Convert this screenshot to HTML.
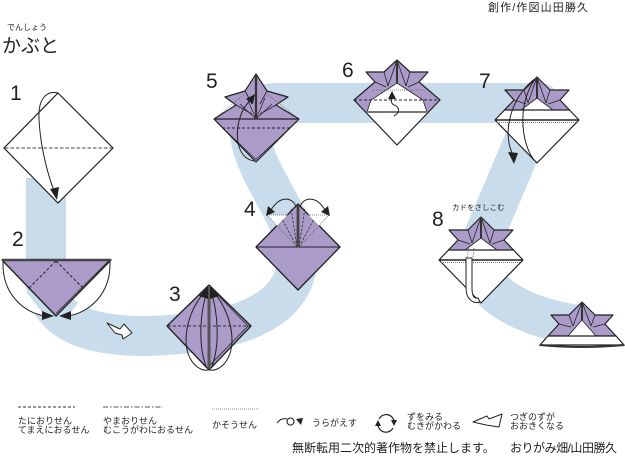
<!DOCTYPE html>
<html><head><meta charset="utf-8">
<style>
html,body{margin:0;padding:0;background:#fff;}
svg{display:block;}
text{font-family:"Liberation Sans","Noto Sans CJK JP",sans-serif;fill:#222;}
</style></head><body>
<svg width="625" height="459" viewBox="0 0 625 459" xmlns="http://www.w3.org/2000/svg">
<defs>
<g id="kb">
 <polygon points="0,0 13,13 32,13 23,23 42,43 0,86 -42,43 -23,23 -32,13 -13,13" fill="#fff"/>
 <polygon points="0,0 13,13 32,13 23,23 33,33 -33,33 -23,23 -32,13 -13,13" fill="#aa9bc9"/>
 <polygon points="0,21 16,33 -16,33" fill="#fff" stroke="#222" stroke-width="0.8"/>
 <polygon points="0,0 13,13 32,13 23,23 42,43 0,86 -42,43 -23,23 -32,13 -13,13" fill="none" stroke="#222" stroke-width="1.2" stroke-linejoin="round"/>
 <path d="M0,0 L-9,26 M0,0 L9,26 M-13,13 L-9,26 M13,13 L9,26 M-23,23 L-11,27 M23,23 L11,27" stroke="#222" stroke-width="0.8" fill="none"/>
 <line x1="0" y1="0" x2="0" y2="21" stroke="#333" stroke-width="2"/>
 <line x1="-33" y1="33" x2="33" y2="33" stroke="#222" stroke-width="1.2"/>
 <line x1="-42" y1="43" x2="42" y2="43" stroke="#222" stroke-width="1.4"/>
 <line x1="-40" y1="45.5" x2="40" y2="45.5" stroke="#777" stroke-width="1" stroke-dasharray="1,1"/>
</g>
</defs>

<!-- blue band -->
<path d="M46,178 L46,280 C46,345 150,340 210,330 C262,321 299,297 297,255 C295,215 255,175 250,135 C247,110 255,103 280,103 L540,103 L478,250 C472,290 520,318 585,326" fill="none" stroke="#c9dcec" stroke-width="40" stroke-linejoin="round"/>

<!-- title -->
<text x="7" y="30" font-size="8">でんしょう</text>
<text x="2" y="52" font-size="19">かぶと</text>
<text x="488" y="11" font-size="11" textLength="100" lengthAdjust="spacing">創作/作図山田勝久</text>

<!-- numbers -->
<g font-size="21">
<text x="10" y="100">1</text>
<text x="12" y="246">2</text>
<text x="169" y="301">3</text>
<text x="244" y="216">4</text>
<text x="206" y="88">5</text>
<text x="342" y="77">6</text>
<text x="479" y="88">7</text>
<text x="432" y="226">8</text>
</g>

<!-- step 1 -->
<polygon points="58,93 113,148 58,203 4,148" fill="#fff" stroke="#222" stroke-width="1.2"/>
<line x1="5" y1="148" x2="112" y2="148" stroke="#6e6070" stroke-width="1.3" stroke-dasharray="3.5,2"/>
<path d="M58,93 C46,90 38,100 39,118 C40,145 47,172 54,191" fill="none" stroke="#222" stroke-width="1"/>
<polygon points="50,189 59,187 57,200" fill="#222"/>

<!-- step 2 -->
<path d="M3,262 C2,295 25,313 45,316" fill="#fff" stroke="#222" stroke-width="1"/>
<path d="M110,262 C111,295 88,313 68,316" fill="#fff" stroke="#222" stroke-width="1"/>
<polygon points="2,260 111,260 56,316" fill="#aa9bc9" stroke="#222" stroke-width="1.4" stroke-linejoin="round"/>
<line x1="2" y1="260" x2="111" y2="260" stroke="#444" stroke-width="2.5"/>
<line x1="108" y1="261.5" x2="56" y2="313.5" stroke="#222" stroke-width="0.8"/>
<path d="M56,261 L29,288 M56,261 L83,288" stroke="#222" stroke-width="1" stroke-dasharray="3,2" fill="none"/>
<polygon points="42,311 54,316 42,320" fill="#222"/>
<polygon points="71,311 59,316 71,320" fill="#222"/>

<!-- hollow arrow -->
<polygon points="107,323 120,329 124,324 132,333 123,339 122,335 115,333" fill="#fff" stroke="#222" stroke-width="1" stroke-linejoin="round"/>

<!-- step 3 -->
<polygon points="209,285 251,326 209,370 167,326" fill="#aa9bc9" stroke="#222" stroke-width="1.3" stroke-linejoin="round"/>
<path d="M211,288 L248,326 L209,366" fill="none" stroke="#222" stroke-width="0.8"/>
<line x1="168" y1="326" x2="250" y2="326" stroke="#333" stroke-width="1" stroke-dasharray="3,2"/>
<line x1="209" y1="287" x2="209" y2="370" stroke="#555" stroke-width="3"/>
<path d="M207,290 C190,305 180,340 190,358 C196,370 207,372 209,369 M211,290 C228,305 238,340 228,358 C222,370 211,372 209,369 M207,292 C200,312 198,345 206,366 M211,292 C218,312 220,345 212,366" fill="none" stroke="#222" stroke-width="1"/>
<polygon points="199,296 208,285 208,299" fill="#222"/>
<polygon points="219,296 210,285 210,299" fill="#222"/>

<!-- step 4 -->
<polygon points="298,204 340,247 298,290 256,247" fill="#aa9bc9" stroke="#222" stroke-width="1.3" stroke-linejoin="round"/>
<line x1="256" y1="247" x2="340" y2="247" stroke="#222" stroke-width="1"/>
<polygon points="267,215 287.5,215.5 277,226" fill="#fff"/>
<polygon points="329,215 308.5,215.5 319,226" fill="#fff"/>
<path d="M267,215 L288,215 M267,215 L297,247 M329,215 L308,215 M329,215 L299,247" stroke="#666" stroke-width="0.8" stroke-dasharray="1,1" fill="none"/>
<path d="M297,247 L282,219 M297,247 L291,208 M299,247 L314,219 M299,247 L305,208" stroke="#333" stroke-width="0.8" stroke-dasharray="2.5,1.5" fill="none"/>
<line x1="298" y1="205" x2="298" y2="246" stroke="#444" stroke-width="2.8"/>
<path d="M296,207 C293,197 280,195 271,210" fill="none" stroke="#222" stroke-width="1"/>
<path d="M300,207 C303,197 316,195 325,210" fill="none" stroke="#222" stroke-width="1"/>
<polygon points="266,216 268,206 275,212" fill="#222"/>
<polygon points="330,216 328,206 321,212" fill="#222"/>

<!-- step 5 -->
<g transform="translate(256,74)">
 <polygon points="0,0 11,17 32,23 20,31 43,45 0,88 -42,45 -20,31 -31,23 -11,17" fill="#aa9bc9" stroke="#222" stroke-width="1.2" stroke-linejoin="round"/>
 <path d="M-40,47.5 L0,85.5 L41,47.5" fill="none" stroke="#222" stroke-width="0.7"/>
 <path d="M-11,17 L-4,30 M11,17 L4,30 M-20,31 L-4,40 M20,31 L4,40" stroke="#222" stroke-width="0.8" fill="none"/>
 <path d="M0,45 L-9,24 M0,45 L9,24 M0,45 L-16,30 M0,45 L16,30" stroke="#222" stroke-width="0.7" fill="none"/>
 <path d="M-42,45 L-11,20 M43,45 L11,20" stroke="#555" stroke-dasharray="1,1.5" stroke-width="0.7" fill="none"/>
 <line x1="-42" y1="45" x2="43" y2="45" stroke="#222" stroke-width="1.2"/>
 <line x1="-34" y1="54" x2="35" y2="54" stroke="#222" stroke-dasharray="3,2" stroke-width="1"/>
 <line x1="0" y1="0" x2="0" y2="45" stroke="#333" stroke-width="2.2"/>
 <path d="M-2,87 C-18,84 -20,65 -18,52 C-16,40 -11,31 -5,26" stroke="#222" fill="none" stroke-width="1"/>
 <polygon points="-1,20 -10,25 -3,30" fill="#222"/>
</g>

<!-- step 6 -->
<g transform="translate(397,60)">
 <polygon points="0,0 13,12 31,12 22,22 43,40 0,85 -43,40 -22,22 -31,12 -13,12" fill="#fff"/>
 <polygon points="0,0 13,12 31,12 22,22 43,40 31,52 -31,52 -43,40 -22,22 -31,12 -13,12" fill="#aa9bc9"/>
 <polygon points="0,23 26,40 30,52 -30,52 -26,40" fill="#fff" stroke="#222" stroke-width="0.8"/>
 <polygon points="0,0 13,12 31,12 22,22 43,40 0,85 -43,40 -22,22 -31,12 -13,12" fill="none" stroke="#222" stroke-width="1.2" stroke-linejoin="round"/>
 <path d="M0,0 L-9,26 M0,0 L9,26 M-13,12 L-9,26 M13,12 L9,26 M-22,22 L-11,27 M22,22 L11,27" stroke="#222" stroke-width="0.8" fill="none"/>
 <line x1="0" y1="0" x2="0" y2="23" stroke="#333" stroke-width="2"/>
 <line x1="-25" y1="30" x2="26" y2="30" stroke="#666" stroke-width="0.8" stroke-dasharray="1,1"/>
 <line x1="-43" y1="40" x2="43" y2="40" stroke="#222" stroke-width="1" stroke-dasharray="3,2"/>
 <line x1="-31" y1="52" x2="31" y2="52" stroke="#777" stroke-width="2"/>
 <path d="M-3,56 C3,53 3,47 -3,45 C-7,43 -5,40 -5,37" stroke="#222" fill="none" stroke-width="1"/>
 <polygon points="-9,39 -1,39 -5,31" fill="#222"/>
</g>

<!-- step 7 -->
<use href="#kb" transform="translate(537,77)"/>
<path d="M537,163 C522,150 515,105 536,78" fill="none" stroke="#222" stroke-width="1"/>
<path d="M536,78 C512,95 502,130 512,153" fill="none" stroke="#222" stroke-width="1"/>
<polygon points="508,152 518,153 514,164" fill="#222"/>

<!-- step 8 -->
<text x="452" y="210" font-size="7.5">カドをさしこむ</text>
<use href="#kb" transform="translate(481,217)"/>
<path d="M469,248 L467,258 M474,248 L473,258" stroke="#555" stroke-width="0.8" stroke-dasharray="1,1" fill="none"/>
<path d="M466,258 L466,288 C466,300 474,304 480,302 L478,298 C474,299 472,296 472,288 L472,258 Z" fill="#fff" stroke="#222" stroke-width="1"/>

<!-- final -->
<g transform="translate(582,302)">
 <polygon points="0,0 13,13 31,13 23,22 34,34 -34,34 -23,22 -31,13 -13,13" fill="#aa9bc9" stroke="#222" stroke-width="1.2" stroke-linejoin="round"/>
 <polygon points="0,18 14,34 -14,34" fill="#fff" stroke="#222" stroke-width="0.8"/>
 <polygon points="-34,34 34,34 42,43 -42,43" fill="#fff" stroke="#222" stroke-width="1.2"/>
 <path d="M0,0 L-9,24 M0,0 L9,24 M-13,13 L-9,24 M13,13 L9,24 M-23,22 L-11,25 M23,22 L11,25" stroke="#222" stroke-width="0.8" fill="none"/>
 <line x1="0" y1="0" x2="0" y2="18" stroke="#333" stroke-width="2"/>
 <path d="M-42,43 Q0,47 42,43" fill="none" stroke="#333" stroke-width="2"/>
</g>

<!-- legend -->
<line x1="18" y1="407" x2="75" y2="407" stroke="#333" stroke-width="1" stroke-dasharray="3,2"/>
<line x1="103" y1="407" x2="163" y2="407" stroke="#555" stroke-width="1" stroke-dasharray="5,2,1.5,2"/>
<line x1="212" y1="409" x2="260" y2="409" stroke="#777" stroke-width="0.8" stroke-dasharray="1,1"/>
<g font-size="9">
<text x="18" y="424">たにおりせん</text>
<text x="18" y="433">てまえにおるせん</text>
<text x="103" y="424">やまおりせん</text>
<text x="103" y="433">むこうがわにおるせん</text>
<text x="212" y="428">かそうせん</text>
<text x="312" y="426">うらがえす</text>
<text x="407" y="420">ずをみる</text>
<text x="407" y="429">むきがかわる</text>
<text x="510" y="420">つぎのずが</text>
<text x="510" y="429">おおきくなる</text>
</g>
<!-- turn over icon -->
<path d="M277,423 C280,419 284,418 287,419" fill="none" stroke="#222" stroke-width="1"/>
<circle cx="290.5" cy="421.5" r="3.5" fill="none" stroke="#222" stroke-width="1.1"/>
<polygon points="296,419 303,418 301,425" fill="#222"/>
<!-- rotate icon -->
<path d="M379,419 A8,8 0 0 1 394,421" fill="none" stroke="#222" stroke-width="1.2"/>
<path d="M393,428 A8,8 0 0 1 378,425" fill="none" stroke="#222" stroke-width="1.2"/>
<polygon points="391,420 397,420 394,426" fill="#222"/>
<polygon points="375,426 381,426 378,420" fill="#222"/>
<!-- larger icon -->
<polygon points="473,422 487,416 489,419 502,414 499,427 486,425" fill="#fff" stroke="#222" stroke-width="1" stroke-linejoin="round"/>

<text x="292" y="452" font-size="12">無断転用二次的著作物を禁止します。</text>
<text x="510" y="452" font-size="12" textLength="107" lengthAdjust="spacing">おりがみ畑/山田勝久</text>
</svg>
</body></html>
